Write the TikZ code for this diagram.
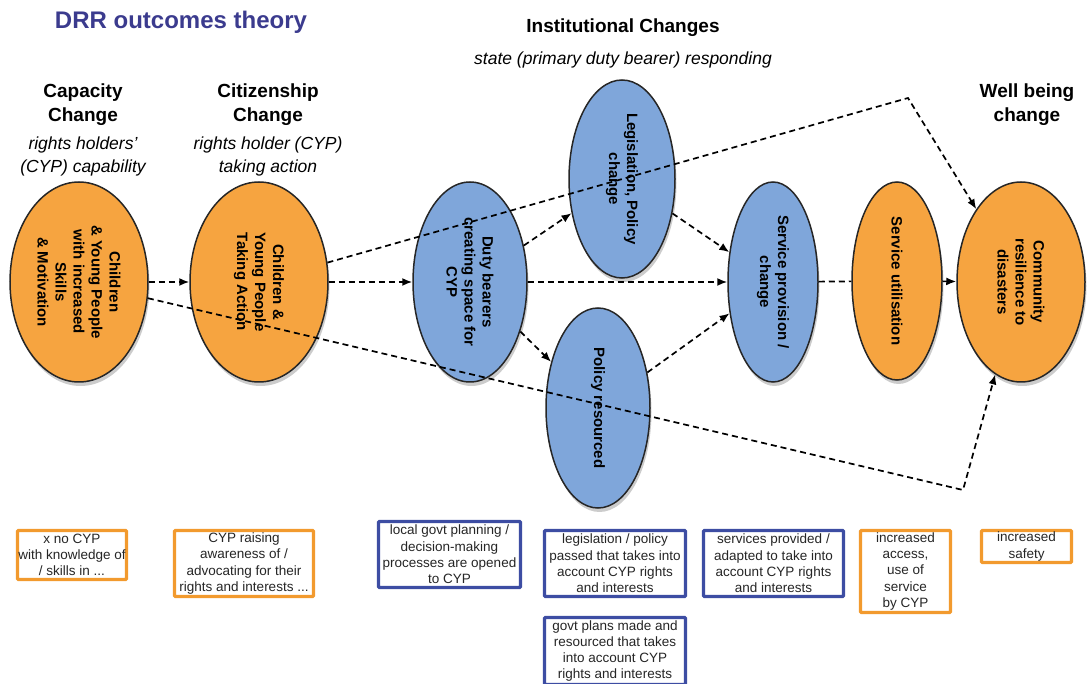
\documentclass[tikz,border=0pt]{standalone}
\usepackage{fontspec}
\setmainfont{Liberation Sans}
\usetikzlibrary{shapes.geometric,arrows.meta,shadows}

\definecolor{drrorange}{RGB}{246,164,64}
\definecolor{drrblue}{RGB}{127,166,218}
\definecolor{boxorange}{RGB}{242,154,46}
\definecolor{boxblue}{RGB}{61,77,163}
\definecolor{titleblue}{RGB}{59,59,142}

\tikzset{
  outcome/.style={draw=black!85, line width=1.5pt, ellipse, rotate=-90,
    inner sep=0pt, align=center, font=\fontsize{15}{18}\selectfont\bfseries,
    drop shadow={shadow xshift=1.5pt, shadow yshift=-4pt, opacity=0.4}},
  capnode/.style={outcome, fill=drrorange},
  instnode/.style={outcome, fill=drrblue},
  heading/.style={align=center, font=\fontsize{19}{24}\selectfont\bfseries},
  subhead/.style={align=center, font=\fontsize{17.5}{23}\selectfont\itshape},
  indicator/.style={line width=3.2pt, rounded corners=1pt, fill=white,
    inner xsep=0pt, inner ysep=1pt, align=center,
    font=\fontsize{13.5}{16.3}\selectfont, text=black!85},
  orangebox/.style={indicator, draw=boxorange},
  bluebox/.style={indicator, draw=boxblue},
  flow/.style={draw, line width=1.7pt, dash pattern=on 6pt off 4pt,
    -{Latex[length=10pt,width=8pt]}},
  flowplain/.style={draw, line width=1.7pt, dash pattern=on 6pt off 4pt}
}

\begin{document}
\begin{tikzpicture}[x=1pt, y=-1pt]
\useasboundingbox (0,0) rectangle (1088,684);

% headings
\node[font=\fontsize{24}{28}\selectfont\bfseries, text=titleblue] (title) at (181,22) {DRR outcomes theory};
\node[heading] (capHead) at (83,104.5) {Capacity\\Change};
\node[subhead] (capSub) at (83,156.5) {rights holders'\\(CYP) capability};
\node[heading] (citzHead) at (268,104.5) {Citizenship\\Change};
\node[subhead] (citzSub) at (268,156) {rights holder (CYP)\\taking action};
\node[heading] (instHead) at (623,28) {Institutional Changes};
\node[subhead] (instSub) at (623,60) {state (primary duty bearer) responding};
\node[heading] (wellHead) at (1027,105) {Well being\\change};

% outcomes
\node[capnode, minimum width=200, minimum height=138] (cap) at (79,282)
  {Children\\ \& Young People\\ with increased\\ Skills\\ \& Motivation};
\node[capnode, minimum width=200, minimum height=138] (citz) at (259,282)
  {Children \&\\ Young People\\ Taking Action};
\node[instnode, minimum width=200, minimum height=114] (duty) at (470,282)
  {Duty bearers\\ creating space for\\ CYP};
\node[instnode, minimum width=198, minimum height=106] (legis) at (622,179)
  {Legislation, Policy\\ change};
\node[instnode, minimum width=200, minimum height=104] (polres) at (598,408)
  {Policy resourced};
\node[instnode, minimum width=200, minimum height=90] (serv) at (773,282)
  {Service provision /\\ change};
\node[capnode, minimum width=198, minimum height=90] (util) at (897,281)
  {Service utilisation};
\node[capnode, minimum width=200, minimum height=128] (comm) at (1021,282)
  {Community\\ resilience to\\ disasters};

\coordinate (upbend) at (908,98);
\coordinate (lowbend) at (963,490);

\path[flow] (cap) -- (citz);
\path[flow] (citz) -- (duty);
\path[flow] (duty) -- (legis);
\path[flow] (duty) -- (polres);
\path[flow] (duty) -- (serv);
\path[flow] (legis) -- (serv);
\path[flow] (polres) -- (serv);
\path[flowplain] (serv) -- (util);
\path[flow] (util) -- (comm);
\path[flow] (citz) -- (upbend) -- (comm);
\path[flow] (cap) -- (lowbend) -- (comm);

% indicators
\node[orangebox, minimum width=109, minimum height=49] (capInd) at (72,555)
  {x no CYP\\with knowledge of\\/ skills in ...};
\node[orangebox, minimum width=139, minimum height=66] (citzInd) at (244,563.5)
  {CYP raising\\awareness of /\\advocating for their\\rights and interests ...};
\node[bluebox, minimum width=142, minimum height=66] (dutyInd) at (449.5,554.5)
  {local govt planning /\\decision-making\\processes are opened\\to CYP};
\node[bluebox, minimum width=141, minimum height=66] (legisInd) at (615,563.5)
  {legislation / policy\\passed that takes into\\account CYP rights\\and interests};
\node[bluebox, minimum width=141, minimum height=67] (polresInd) at (615,651)
  {govt plans made and\\resourced that takes\\into account CYP\\rights and interests};
\node[bluebox, minimum width=140, minimum height=66] (servInd) at (773.5,563.5)
  {services provided /\\adapted to take into\\account CYP rights\\and interests};
\node[orangebox, minimum width=90, minimum height=82] (utilInd) at (905.5,571.5)
  {increased\\access,\\use of\\service\\by CYP};
\node[orangebox, minimum width=90, minimum height=32] (commInd) at (1026.5,546.5)
  {increased\\safety};
\end{tikzpicture}
\end{document}
